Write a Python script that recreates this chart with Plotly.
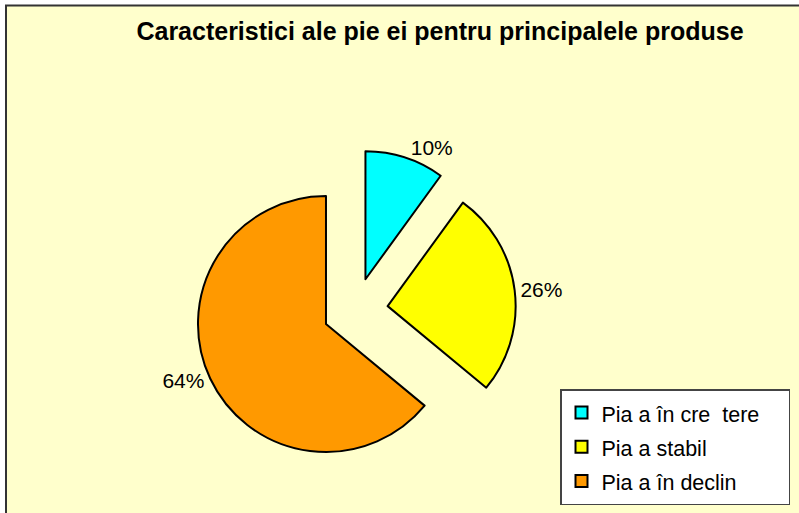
import plotly.graph_objects as go

# ---- data ----
categories = ["Pia a în cre  tere", "Pia a stabil", "Pia a în declin"]
values = [10, 26, 64]
colors = ["#00FFFF", "#FFFF00", "#FF9900"]
title_text = "Caracteristici ale pie ei pentru principalele produse"

W, H = 799, 513

def px_x(p):
    return p / W

def px_y(p):
    return 1 - p / H

pad = "\u00a0" * 4
legend_labels = ['<span style="font-size:21.5px">%s%s</span>' % (c, pad) for c in categories]

fig = go.Figure()
fig.add_trace(go.Pie(
    labels=legend_labels,
    values=values,
    sort=False,
    direction="clockwise",
    rotation=0,
    pull=[0.254, 0.254, 0.254],
    marker=dict(colors=colors, line=dict(color="#000000", width=2)),
    textinfo="percent",
    textposition="outside",
    texttemplate="%{percent:.0%}",
    textfont=dict(family="Arial, Liberation Sans, sans-serif", size=21, color="#000000"),
    hoverinfo="skip",
    domain=dict(x=[px_x(194.9), px_x(515.9)], y=[px_y(470.7), px_y(149.7)]),
))

fig.update_layout(
    width=W, height=H, autosize=False,
    margin=dict(l=0, r=0, t=0, b=0, autoexpand=False),
    paper_bgcolor="#FFFFFF",
    font=dict(family="Arial, Liberation Sans, sans-serif", color="#000000"),
    title=dict(
        text=title_text,
        x=px_x(440), xanchor="center",
        y=px_y(31), yanchor="middle",
        font=dict(family="Arial, Liberation Sans, sans-serif", size=25, color="#000000", weight="bold"),
    ),
    showlegend=True,
    legend=dict(
        x=px_x(560), y=px_y(505), xanchor="left", yanchor="bottom",
        bgcolor="#FFFFFF", bordercolor="#444444", borderwidth=1.5,
        font=dict(family="Arial, Liberation Sans, sans-serif", size=24, color="#000000"),
    ),
    shapes=[dict(
        type="rect", xref="paper", yref="paper", layer="below",
        x0=px_x(6), x1=px_x(830), y0=px_y(540), y1=px_y(5.5),
        fillcolor="#FFFFCC", line=dict(color="#333333", width=2),
    )],
)

fig.write_html(
    "out.html",
    config={"displayModeBar": False},
    post_script="document.body.style.margin='0';document.body.style.overflow='hidden';",
)
